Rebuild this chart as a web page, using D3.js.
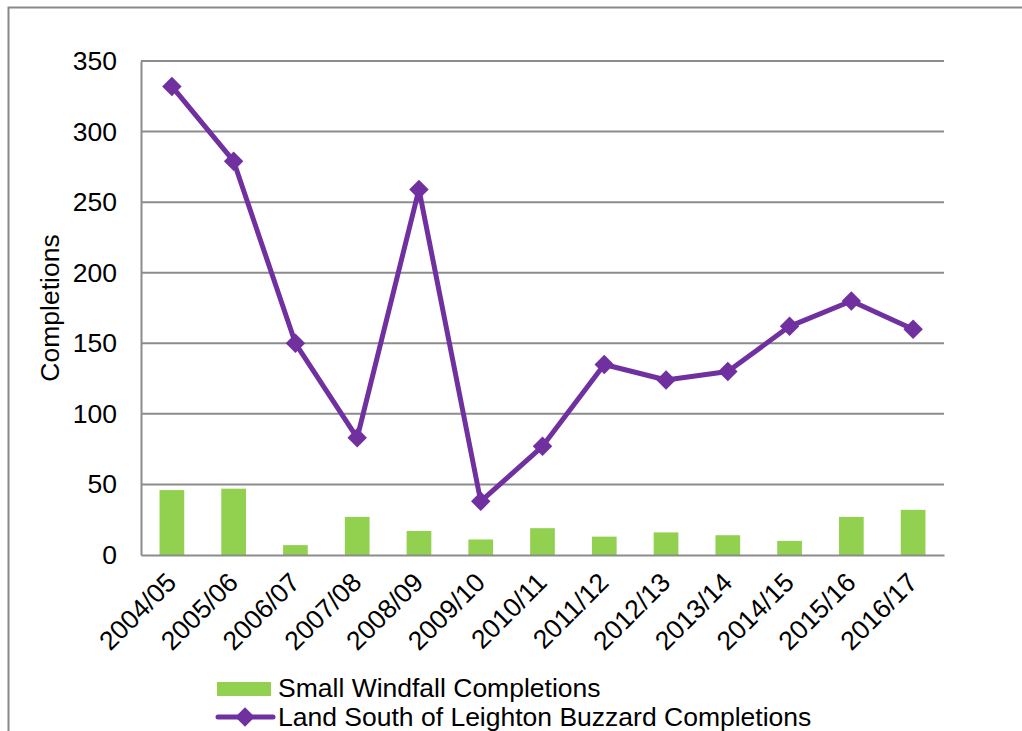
<!DOCTYPE html>
<html>
<head>
<meta charset="utf-8">
<script src="https://cdn.jsdelivr.net/npm/d3@7"></script>
<style>
body { margin: 0; background: #fff; }
text { font-family: "Liberation Sans", Arial, sans-serif; fill: #000; }
</style>
</head>
<body>
<div id="chartRegion"></div>
<script>
var years = ["2004/05", "2005/06", "2006/07", "2007/08", "2008/09", "2009/10", "2010/11",
             "2011/12", "2012/13", "2013/14", "2014/15", "2015/16", "2016/17"];
var windfall = [46, 47, 7, 27, 17, 11, 19, 13, 16, 14, 10, 27, 32];
var leighton = [332, 279, 150, 83, 259, 38, 77, 135, 124, 130, 162, 180, 160];
var yTicks = [0, 50, 100, 150, 200, 250, 300, 350];

var W = 1022, H = 731;
var plot = {left: 141, right: 944, top: 61, bottom: 555};
var fontSize = "26.5px";

var svg = d3.select("#chartRegion").append("svg").attr("width", W).attr("height", H);

// outer frame
svg.append("rect").attr("x", 8.5).attr("y", 7.5).attr("width", W).attr("height", H)
  .attr("fill", "none").attr("stroke", "#888").attr("stroke-width", 2);

var x = d3.scaleBand().domain(years).range([plot.left, plot.right]);
var y = d3.scaleLinear().domain([0, 350]).range([plot.bottom, plot.top]);

// gridlines
svg.append("g").selectAll("line").data(yTicks.slice(1)).enter().append("line")
  .attr("x1", plot.left).attr("x2", plot.right)
  .attr("y1", function(d) { return y(d); }).attr("y2", function(d) { return y(d); })
  .attr("stroke", "#8c8c8c").attr("stroke-width", 2);

// y axis
var yAxis = svg.append("g").attr("transform", "translate(" + plot.left + ",0)")
  .call(d3.axisLeft(y).tickValues(yTicks).tickSize(0).tickPadding(24));
yAxis.select(".domain").attr("stroke", "#8c8c8c").attr("stroke-width", 2);
yAxis.selectAll("text").style("font-size", fontSize).attr("font-family", "Liberation Sans, Arial, sans-serif").attr("fill", "#000");

// bars
svg.append("g").selectAll("rect").data(windfall).enter().append("rect")
  .attr("x", function(d, i) { return x(years[i]) + x.bandwidth() * 0.3; })
  .attr("width", x.bandwidth() * 0.4)
  .attr("y", function(d) { return y(d); })
  .attr("height", function(d) { return y(0) - y(d); })
  .attr("fill", "#92D050");

// x axis
var xAxis = svg.append("g").attr("transform", "translate(0," + plot.bottom + ")")
  .call(d3.axisBottom(x).tickSize(0).tickPadding(0));
xAxis.select(".domain").attr("stroke", "#8c8c8c").attr("stroke-width", 2);
xAxis.selectAll("text").style("font-size", fontSize).attr("font-family", "Liberation Sans, Arial, sans-serif")
  .attr("fill", "#000").attr("text-anchor", "end")
  .attr("dy", "0").attr("y", 0)
  .attr("transform", "translate(6,29) rotate(-45)");

// line
var line = d3.line()
  .x(function(d, i) { return x(years[i]) + x.bandwidth() / 2; })
  .y(function(d) { return y(d); });
svg.append("path").datum(leighton).attr("d", line)
  .attr("fill", "none").attr("stroke", "#7030A0").attr("stroke-width", 5).attr("stroke-linejoin", "round");

var diamond = d3.symbol().type(d3.symbolSquare).size(190);
svg.append("g").selectAll("path").data(leighton).enter().append("path")
  .attr("d", diamond)
  .attr("transform", function(d, i) {
    return "translate(" + (x(years[i]) + x.bandwidth() / 2) + "," + y(d) + ") rotate(45)";
  })
  .attr("fill", "#7030A0");

// y title
svg.append("text").attr("transform", "translate(59,308) rotate(-90)")
  .attr("text-anchor", "middle").style("font-size", fontSize).text("Completions");

// legend
var lg = svg.append("g");
lg.append("rect").attr("x", 217).attr("y", 682).attr("width", 54).attr("height", 14).attr("fill", "#92D050");
lg.append("text").attr("x", 278).attr("y", 697).style("font-size", fontSize).text("Small Windfall Completions");
lg.append("line").attr("x1", 218).attr("x2", 273).attr("y1", 717).attr("y2", 717)
  .attr("stroke", "#7030A0").attr("stroke-width", 5).attr("stroke-linecap", "round");
lg.append("path").attr("d", diamond).attr("transform", "translate(245,717) rotate(45)").attr("fill", "#7030A0");
lg.append("text").attr("x", 278).attr("y", 726).style("font-size", fontSize).text("Land South of Leighton Buzzard Completions");
</script>
</body>
</html>
